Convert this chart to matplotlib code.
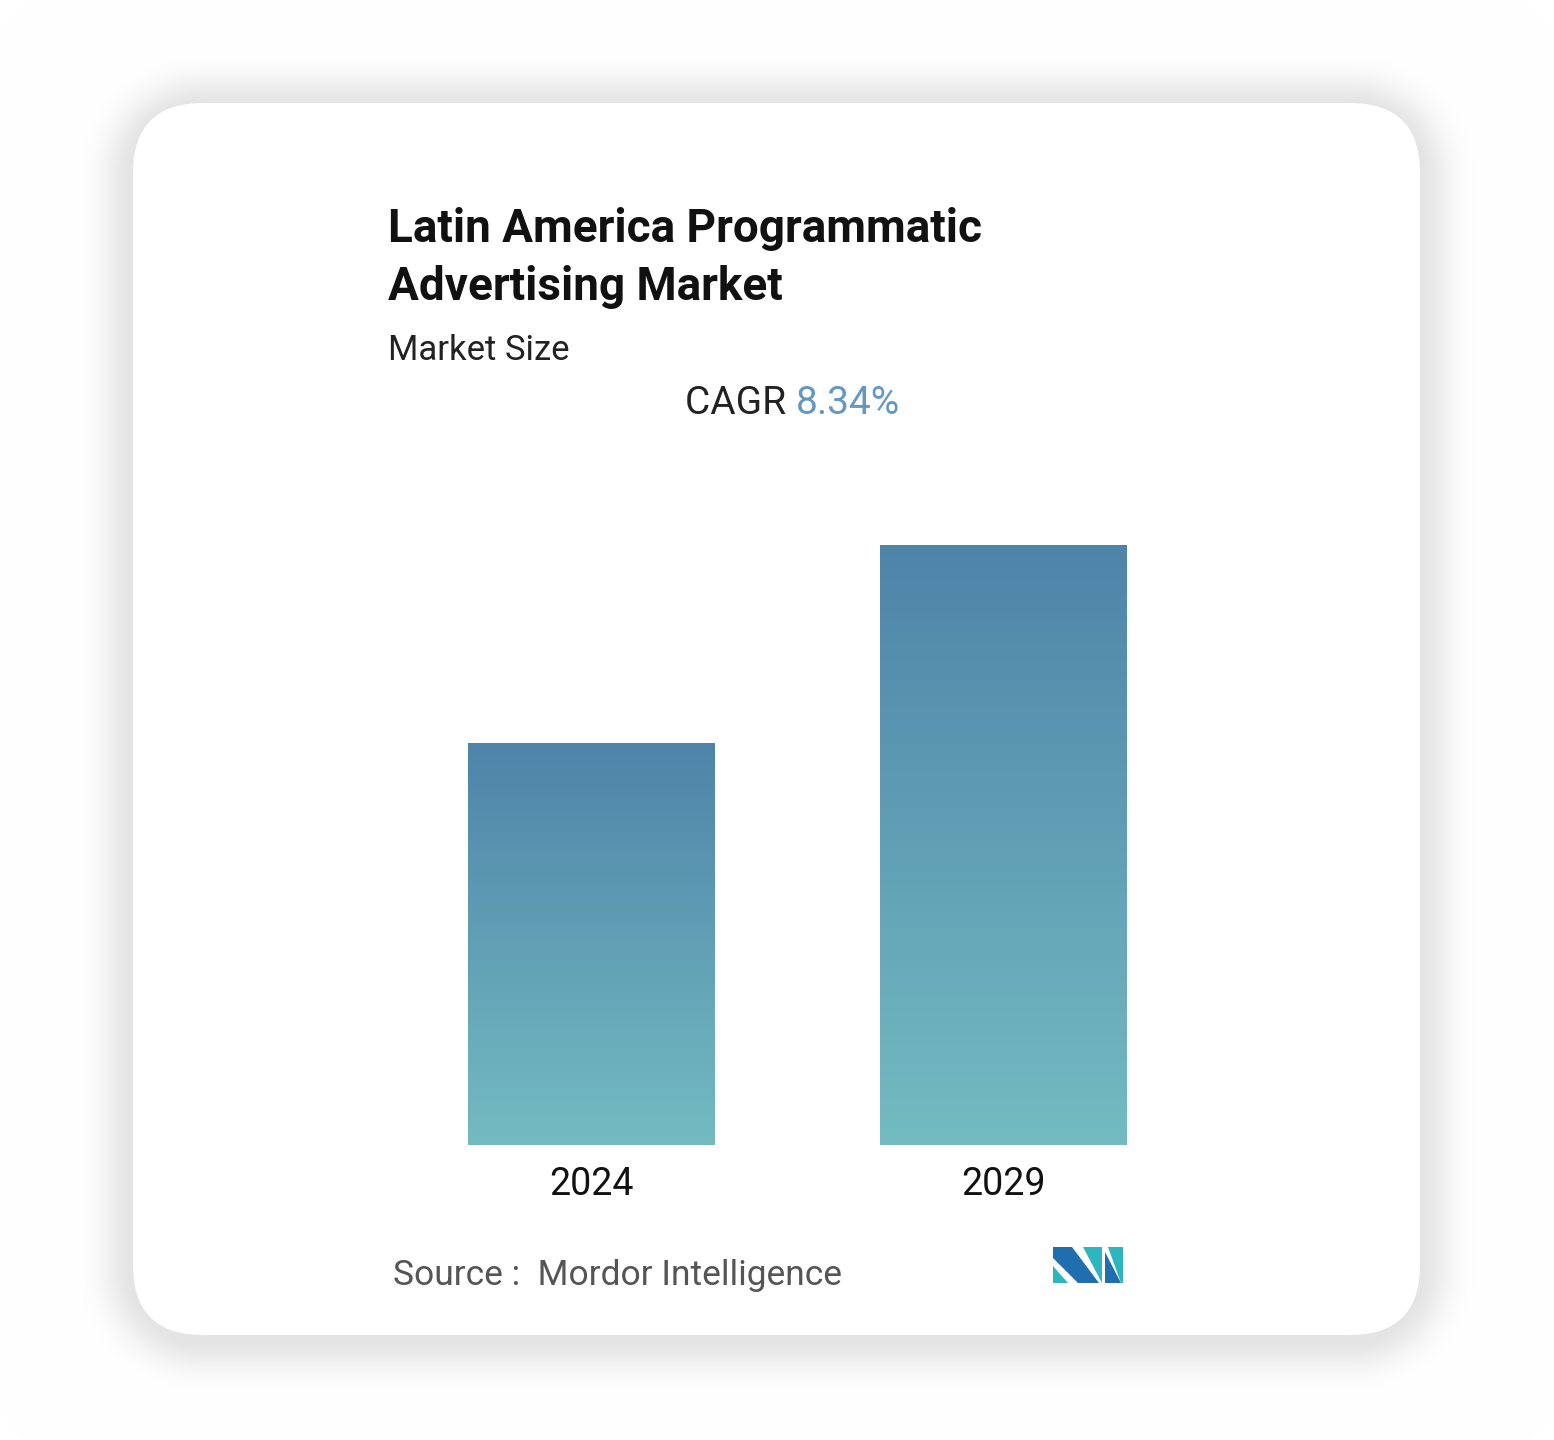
import numpy as np
import matplotlib
matplotlib.use('Agg')
import matplotlib.pyplot as plt
from matplotlib.patches import FancyBboxPatch, Polygon
from matplotlib.colors import LinearSegmentedColormap

# datos (tamaño de mercado relativo, sin eje en el original)
years = ['2024', '2029']
values = [1.0, 1.493]
cagr = '8.34%'
title_lines = ['Latin America Programmatic', 'Advertising Market']
subtitle = 'Market Size'
source = 'Source :  Mordor Intelligence'

W, H = 1554, 1440
plt.rcParams['font.family'] = ['Roboto', 'DejaVu Sans']

fig = plt.figure(figsize=(W / 100, H / 100), dpi=100)
fig.patch.set_facecolor('white')

# fondo: sombra + tarjeta, en coordenadas de píxel
bg = fig.add_axes([0, 0, 1, 1])
bg.set_xlim(0, W)
bg.set_ylim(H, 0)
bg.axis('off')

cx0, cy0, cx1, cy1, rad = 133, 103, 1420, 1335, 70
xx, yy = np.meshgrid(np.arange(W) + 0.5, np.arange(H) + 0.5)
c = np.array([(cx0 + cx1) / 2, (cy0 + cy1) / 2 + 4])
b = np.array([(cx1 - cx0) / 2, (cy1 - cy0) / 2])
qx = np.abs(xx - c[0]) - (b[0] - rad)
qy = np.abs(yy - c[1]) - (b[1] - rad)
d = np.hypot(np.maximum(qx, 0), np.maximum(qy, 0)) + np.minimum(np.maximum(qx, qy), 0) - rad
shadow = np.where(d > 0, 0.105 * np.exp(-(d / 30.0) ** 2), 0.105)
img = np.ones((H, W, 3)) * (1 - shadow)[..., None]
bg.imshow(img, extent=(0, W, H, 0), aspect='auto', zorder=0)

card = FancyBboxPatch((cx0, cy0), cx1 - cx0, cy1 - cy0,
                      boxstyle=f'round,pad=0,rounding_size={rad}',
                      fc='white', ec='none', zorder=1)
bg.add_patch(card)

# textos
bg.text(388, 242, title_lines[0], fontsize=33, fontweight='bold', color='#111111',
        va='baseline', zorder=3)
bg.text(388, 300, title_lines[1], fontsize=33, fontweight='bold', color='#111111',
        va='baseline', zorder=3)
bg.text(388, 360, subtitle, fontsize=25, color='#222222', va='baseline', zorder=3)
t = bg.text(685, 414, 'CAGR ', fontsize=28, color='#222222', va='baseline', zorder=3)
bg.annotate(cagr, xycoords=t, xy=(1, 0), va='bottom', fontsize=28, color='#6497C2',
            zorder=3)
bg.text(393, 1285, source, fontsize=25.5, color='#555555', va='baseline', zorder=3)

# logo
dark, teal = '#1F6FAE', '#2DB5C0'
logo = [
    ([(1053, 1266), (1068, 1283), (1053, 1283)], teal),
    ([(1053, 1247), (1072, 1247), (1099, 1283), (1078, 1283), (1053, 1258)], dark),
    ([(1083, 1247), (1102, 1247), (1102, 1283)], teal),
    ([(1105, 1252), (1121, 1283), (1105, 1283)], dark),
    ([(1108, 1247), (1123, 1247), (1123, 1283), (1121, 1283)], teal),
]
for pts, col in logo:
    bg.add_patch(Polygon(pts, closed=True, fc=col, ec='none', zorder=3))

# gráfico de barras
ax = fig.add_axes([386 / W, 1 - 1145 / H, (1209 - 386) / W, 600 / H])
ax.patch.set_alpha(0)
x = np.arange(len(years))
bars = ax.bar(x, values, width=0.6, color='none', edgecolor='none')
ax.set_xlim(-0.5, 1.5)
ax.set_ylim(0, max(values))

cmap = LinearSegmentedColormap.from_list('grad', ['#73BBC1', '#4F84A9'])
grad = np.linspace(0, 1, 256).reshape(-1, 1)
for bar in bars:
    x0, y0 = bar.get_x(), bar.get_y()
    w, h = bar.get_width(), bar.get_height()
    im = ax.imshow(grad, cmap=cmap, origin='lower', aspect='auto',
                   extent=(x0, x0 + w, y0, y0 + h), zorder=2)
    im.set_clip_path(bar)

ax.set_xticks(x, years)
ax.set_yticks([])
ax.tick_params(axis='x', length=0, pad=15, labelsize=27, labelcolor='#111111')
for s in ax.spines.values():
    s.set_visible(False)

fig.savefig('out.png', dpi=100, facecolor='white')
